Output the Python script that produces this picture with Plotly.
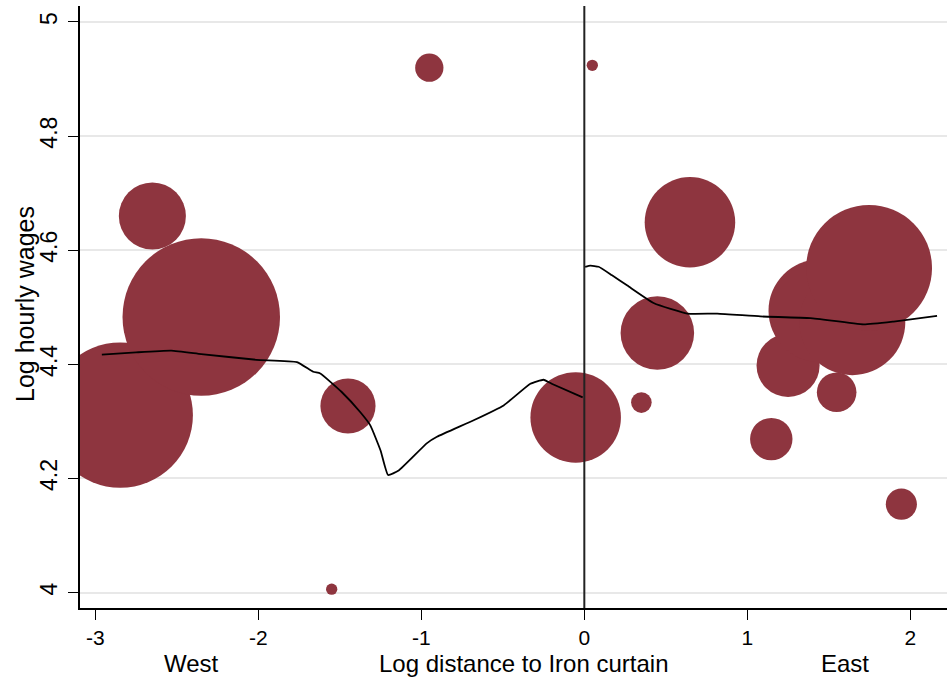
import plotly.graph_objects as go

# Bubble data (log distance, log hourly wage, weight)
dist = [-2.957, -2.847, -2.65, -2.35, -1.55, -1.45, -0.951, -0.053,
        0.049, 0.35, 0.448, 0.648, 1.147, 1.25, 1.445, 1.548, 1.644, 1.747, 1.945]
wage = [4.385, 4.311, 4.66, 4.483, 4.006, 4.327, 4.920, 4.307,
        4.924, 4.333, 4.455, 4.649, 4.269, 4.398, 4.494, 4.351, 4.474, 4.569, 4.155]
weight = [200, 2640, 562, 3100, 16, 380, 100, 1024,
          16, 53, 676, 1024, 225, 497, 1318, 196, 1406, 1980, 121]

# Smoothed (lowess) lines, west and east of the border
west_x = [-2.96, -2.75, -2.534, -2.35, -2.012, -1.763, -1.663, -1.62, -1.49, -1.374, -1.313,
          -1.25, -1.204, -1.139, -0.965, -0.904, -0.679, -0.495, -0.331, -0.25, -0.2, -0.01]
west_y = [4.417, 4.421, 4.424, 4.418, 4.408, 4.404, 4.387, 4.384, 4.352, 4.316, 4.293,
          4.249, 4.206, 4.214, 4.262, 4.273, 4.302, 4.328, 4.366, 4.373, 4.366, 4.342]
east_x = [0.005, 0.037, 0.088, 0.17, 0.264, 0.428, 0.632, 0.816, 1.08, 1.387,
          1.714, 1.898, 2.164]
east_y = [4.571, 4.573, 4.571, 4.556, 4.538, 4.507, 4.489, 4.489, 4.484, 4.481,
          4.470, 4.475, 4.485]

x_ticks = [-3, -2, -1, 0, 1, 2]
x_tick_text = ["-3", "-2", "-1", "0", "1", "2"]
y_ticks = [4, 4.2, 4.4, 4.6, 4.8, 5]
y_tick_text = ["4", "4.2", "4.4", "4.6", "4.8", "5"]

FONT = "Liberation Sans, Arial, sans-serif"
BUBBLE = "#8E353F"

fig = go.Figure()
fig.add_trace(go.Scatter(
    x=dist, y=wage, mode="markers",
    marker=dict(size=weight, sizemode="area", sizeref=0.25, color=BUBBLE,
                line=dict(width=0), opacity=1),
    hoverinfo="x+y", showlegend=False))
fig.add_trace(go.Scatter(x=west_x, y=west_y, mode="lines",
                         line=dict(color="black", width=1.8, shape="spline",
                                   smoothing=0.4), showlegend=False))
fig.add_trace(go.Scatter(x=east_x, y=east_y, mode="lines",
                         line=dict(color="black", width=1.8, shape="spline",
                                   smoothing=0.4), showlegend=False))

fig.add_shape(type="line", xref="x", yref="paper", x0=0, x1=0, y0=0, y1=1,
              line=dict(color="#222222", width=2))

fig.update_layout(
    width=947, height=679,
    margin=dict(l=80, r=0, t=6, b=71, autoexpand=False),
    paper_bgcolor="white", plot_bgcolor="white",
    font=dict(family=FONT, size=22, color="black"),
    xaxis=dict(range=[-3.094, 2.225], tickvals=x_ticks, ticktext=x_tick_text,
               ticks="outside", ticklen=10, automargin=False,
               tickwidth=1.3, tickcolor="black", showline=True, linecolor="black",
               linewidth=1.5, showgrid=False, zeroline=False,
               ticklabelstandoff=0, tickfont=dict(size=21)),
    yaxis=dict(range=[3.973, 5.028], tickvals=y_ticks, ticktext=y_tick_text,
               ticks="outside", ticklen=10, tickwidth=1.3, tickcolor="black",
               showline=True, linecolor="black", linewidth=1.5, automargin=False,
               showgrid=True, gridcolor="#E8E8E8", gridwidth=1.6, zeroline=False,
               tickangle=-90, ticklabelstandoff=2, tickfont=dict(size=23)),
    annotations=[
        dict(text="Log hourly wages", xref="paper", yref="paper", x=0, y=0.505,
             xshift=-55, textangle=-90, showarrow=False,
             xanchor="center", yanchor="middle", font=dict(size=25)),
        dict(text="West", xref="x", yref="paper", x=-2.41, y=-0.0915,
             showarrow=False, xanchor="center", yanchor="middle", font=dict(size=24)),
        dict(text="Log distance to Iron curtain", xref="x", yref="paper", x=-0.372,
             y=-0.0915, showarrow=False, xanchor="center", yanchor="middle",
             font=dict(size=24)),
        dict(text="East", xref="x", yref="paper", x=1.60, y=-0.0915,
             showarrow=False, xanchor="center", yanchor="middle", font=dict(size=24)),
    ],
)

fig.write_html("out.html", config={"displayModeBar": False},
               post_script="document.body.style.margin='0';"
                           "document.body.style.overflow='hidden';")
